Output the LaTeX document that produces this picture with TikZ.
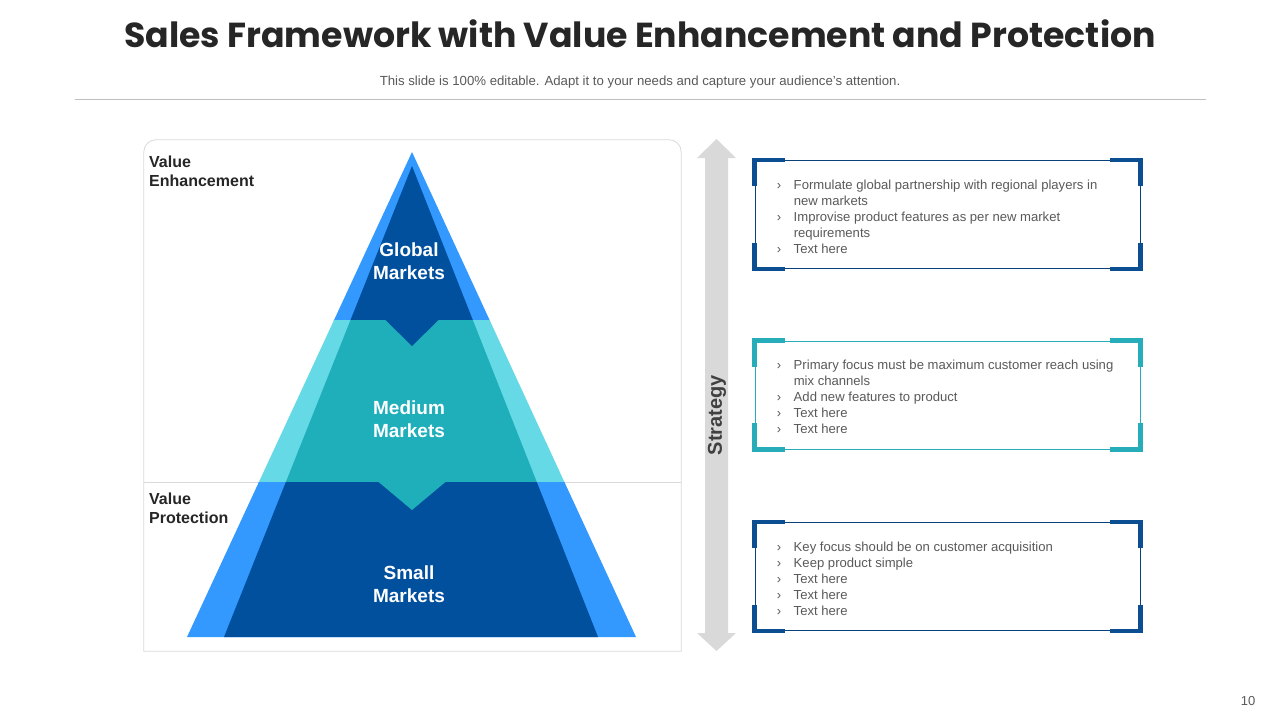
\documentclass[tikz,border=0pt]{standalone}
\usepackage{fontspec}
\setmainfont{Liberation Sans}
\newfontfamily\titlefont{Poppins}
\usetikzlibrary{positioning,calc}

\definecolor{pyrBright}{HTML}{3399FF}
\definecolor{pyrCyan}{HTML}{66D9E6}
\definecolor{pyrNavy}{HTML}{00509E}
\definecolor{pyrTeal}{HTML}{1FAFBA}
\definecolor{txtDark}{HTML}{262626}
\definecolor{txtGray}{HTML}{595959}
\definecolor{boxNavy}{HTML}{0B4E91}
\definecolor{boxTeal}{HTML}{27ADBA}
\definecolor{arrGray}{HTML}{D9D9D9}

\newcommand{\bul}[1]{\makebox[17pt][l]{›}#1}
\newcommand{\cont}[1]{\hspace*{17pt}#1}

\begin{document}
\begin{tikzpicture}[x=1pt,y=-1pt,
  every node/.style={inner sep=0pt},
  title/.style={font=\titlefont\bfseries\fontsize{34.7}{40}\selectfont, text=txtDark},
  sub/.style={font=\fontsize{13.2}{15}\selectfont, text=txtGray},
  side/.style={font=\bfseries\fontsize{16}{19}\selectfont, text=txtDark,
               align=left, anchor=north west},
  mkt/.style={font=\bfseries\fontsize{19}{23}\selectfont, text=white, align=center},
  panel/.style={minimum width=537pt, minimum height=511pt},
  panline/.style={draw=black!15, line width=0.8pt},
  rule/.style={draw=black!25, line width=0.8pt},
  frame/.style={draw=#1, line width=0.9pt, minimum width=385pt, minimum height=108pt},
  brk/.style={draw=#1, line width=4.6pt},
  items/.style={font=\fontsize{13.1}{16}\selectfont, text=txtGray, align=left, anchor=west},
]
\useasboundingbox (0,0) rectangle (1280,720);

% Heading
\node[title] (head) at (640,34) {Sales Framework with Value Enhancement and Protection};
\node[sub] (subhead) at (640,82) {This slide is 100\% editable. Adapt it to your needs and capture your audience's attention.};
\coordinate (ruleL) at (75,99);
\coordinate (ruleR) at (1206,99);
\draw[rule] (ruleL) -- (ruleR);

% Left panel (rounded top only) with divider
\node[panel] (pan) at (412.5,395.5) {};
\draw[panline] (pan.south west) -- ([yshift=-12pt]pan.north west)
  arc[start angle=180, end angle=90, radius=12pt] -- ([xshift=-12pt]pan.north east)
  arc[start angle=90, end angle=0, radius=12pt] -- (pan.south east) -- cycle;
\coordinate (divL) at (144,482);
\coordinate (divR) at (681,482);
\draw[rule, black!15] (divL) -- (divR);

% Pyramid corners
\coordinate (oTop) at (412,152);
\coordinate (oL) at (187,637);
\coordinate (oR) at (636,637);
\coordinate (iTop) at (412,166);
\coordinate (iL) at (224,637);
\coordinate (iR) at (598,637);

% Bands: outer light, inner dark
\foreach \ya/\yb/\co/\ci in {140/320/pyrBright/pyrNavy,
                             320/482/pyrCyan/pyrTeal,
                             482/640/pyrBright/pyrNavy} {
  \begin{scope}
    \clip (150,\ya) rectangle (680,\yb);
    \fill[\co] (oTop) -- (oL) -- (oR) -- cycle;
    \fill[\ci] (iTop) -- (iL) -- (iR) -- cycle;
  \end{scope}
}

% Chevrons between bands
\fill[pyrNavy] (385,319.5) -- (439,319.5) -- (412,346) -- cycle;
\fill[pyrTeal] (378,481.5) -- (446,481.5) -- (412,510) -- cycle;

\node[mkt] (glob) at (409,261) {Global\\Markets};
\node[mkt] (med) at (409,419) {Medium\\Markets};
\node[mkt] (small) at (409,584) {Small\\Markets};

\node[side] (enh) at (149,156) {Value\\Enhancement};
\node[side] (prot) at (149,493) {Value\\Protection};

% Strategy arrow
\fill[arrGray] (716.5,139) -- (736,158) -- (728,158) -- (728,633) -- (736,633)
  -- (716.5,651) -- (697,633) -- (705,633) -- (705,158) -- (697,158) -- cycle;
\node[font=\bfseries\fontsize{20}{24}\selectfont, text=black!75, rotate=90] (strat) at (717,415) {Strategy};

% Text boxes
\node[frame=boxNavy!85!black] (b1) at (947.5,214.5) {};
\node[frame=boxTeal] (b2) at (947.5,395) {};
\node[frame=boxNavy!85!black] (b3) at (947.5,576.5) {};

\foreach \b/\c in {b1/boxNavy, b2/boxTeal, b3/boxNavy} {
  \draw[brk=\c] ([yshift=-26pt]\b.north west) -- (\b.north west) -- ([xshift=30pt]\b.north west);
  \draw[brk=\c] ([xshift=-30pt]\b.north east) -- (\b.north east) -- ([yshift=-26pt]\b.north east);
  \draw[brk=\c] ([yshift=26pt]\b.south west) -- (\b.south west) -- ([xshift=30pt]\b.south west);
  \draw[brk=\c] ([xshift=-30pt]\b.south east) -- (\b.south east) -- ([yshift=26pt]\b.south east);
}

\node[items] (t1) at ([xshift=22pt,yshift=-2pt]b1.west)
  {\bul{Formulate global partnership with regional players in}\\
   \cont{new markets}\\
   \bul{Improvise product features as per new market}\\
   \cont{requirements}\\
   \bul{Text here}};
\node[items] (t2) at ([xshift=22pt,yshift=-2pt]b2.west)
  {\bul{Primary focus must be maximum customer reach using}\\
   \cont{mix channels}\\
   \bul{Add new features to product}\\
   \bul{Text here}\\
   \bul{Text here}};
\node[items] (t3) at ([xshift=22pt,yshift=-2pt]b3.west)
  {\bul{Key focus should be on customer acquisition}\\
   \bul{Keep product simple}\\
   \bul{Text here}\\
   \bul{Text here}\\
   \bul{Text here}};

% Page number
\node[font=\fontsize{13}{15}\selectfont, text=txtGray] (pg) at (1248,701) {10};

\end{tikzpicture}
\end{document}
